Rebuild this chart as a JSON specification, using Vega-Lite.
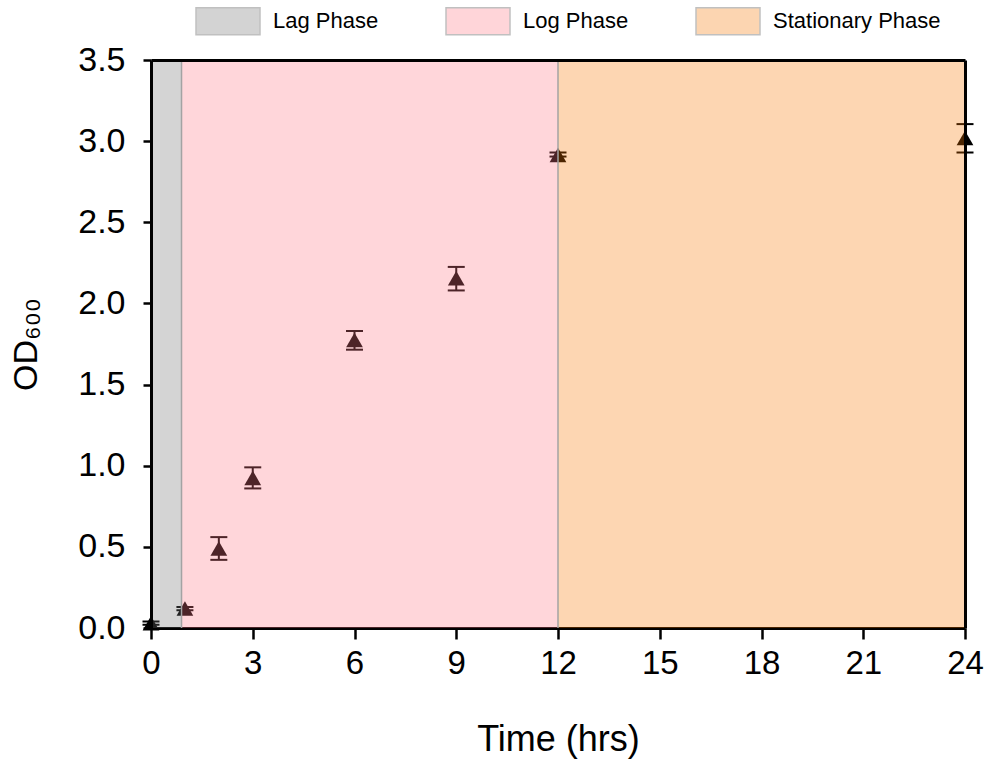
{
  "$schema": "https://vega.github.io/schema/vega-lite/v6.json",
  "width": 814,
  "height": 568,
  "autosize": {"type": "none"},
  "padding": {"left": 151, "top": 60, "right": 25, "bottom": 131},
  "background": "white",
  "config": {
    "view": {"stroke": null},
    "font": "Liberation Sans",
    "axis": {"domainColor": "black", "domainWidth": 3, "tickColor": "black", "tickWidth": 2.5, "labelColor": "black", "titleColor": "black", "grid": false, "titleFontWeight": "normal", "labelFont": "Liberation Sans", "titleFont": "Liberation Sans", "labelFlush": false, "labelOverlap": false}
  },
  "datasets": {
    "growth": [
      {"time": 0, "od": 0.03, "lo": 0.02, "hi": 0.04},
      {"time": 1, "od": 0.12, "lo": 0.11, "hi": 0.13},
      {"time": 2, "od": 0.49, "lo": 0.42, "hi": 0.56},
      {"time": 3, "od": 0.925, "lo": 0.86, "hi": 0.99},
      {"time": 6, "od": 1.775, "lo": 1.715, "hi": 1.83},
      {"time": 9, "od": 2.155, "lo": 2.08, "hi": 2.225},
      {"time": 12, "od": 2.915, "lo": 2.905, "hi": 2.93},
      {"time": 24, "od": 3.02, "lo": 2.93, "hi": 3.105}
    ],
    "phases": [
      {"phase": "Lag Phase", "start": 0, "end": 0.9, "bottom": 0, "top": 3.5},
      {"phase": "Log Phase", "start": 0.9, "end": 12, "bottom": 0, "top": 3.5},
      {"phase": "Stationary Phase", "start": 12, "end": 24, "bottom": 0, "top": 3.5}
    ]
  },
  "layer": [
    {
      "data": {"name": "growth"},
      "mark": {"type": "rule", "color": "black", "strokeWidth": 2},
      "encoding": {
        "x": {"field": "time", "type": "quantitative", "scale": {"domain": [0, 24], "nice": false, "zero": false},
          "axis": {"orient": "bottom", "values": [0, 3, 6, 9, 12, 15, 18, 21, 24], "labelFontSize": 33, "labelPadding": 8, "tickSize": 11, "title": "Time (hrs)", "titleFontSize": 36, "titlePadding": 42, "zindex": 0}},
        "y": {"field": "lo", "type": "quantitative", "scale": {"domain": [0, 3.5], "nice": false, "zero": false},
          "axis": {"orient": "left", "values": [0, 0.5, 1, 1.5, 2, 2.5, 3, 3.5], "format": ".1f", "labelFontSize": 34, "labelPadding": 18, "tickSize": 8, "title": "OD₆₀₀", "titleFontSize": 34, "titlePadding": 34, "zindex": 1}},
        "y2": {"field": "hi"}
      }
    },
    {
      "data": {"name": "growth"},
      "mark": {"type": "tick", "orient": "horizontal", "size": 17, "thickness": 2, "color": "black", "opacity": 1},
      "encoding": {
        "x": {"field": "time", "type": "quantitative", "axis": null},
        "y": {"field": "lo", "type": "quantitative", "axis": null}
      }
    },
    {
      "data": {"name": "growth"},
      "mark": {"type": "tick", "orient": "horizontal", "size": 17, "thickness": 2, "color": "black", "opacity": 1},
      "encoding": {
        "x": {"field": "time", "type": "quantitative", "axis": null},
        "y": {"field": "hi", "type": "quantitative", "axis": null}
      }
    },
    {
      "data": {"name": "growth"},
      "mark": {"type": "point", "shape": "triangle-up", "filled": true, "color": "black", "size": 280, "opacity": 1},
      "encoding": {
        "x": {"field": "time", "type": "quantitative", "axis": null},
        "y": {"field": "od", "type": "quantitative", "axis": null}
      }
    },
    {
      "data": {"name": "phases"},
      "mark": {"type": "rect", "opacity": 0.3},
      "encoding": {
        "x": {"field": "start", "type": "quantitative",
          "axis": {"orient": "top", "labels": false, "ticks": false, "title": null, "domainWidth": 3, "zindex": 1}},
        "x2": {"field": "end"},
        "y": {"field": "bottom", "type": "quantitative",
          "axis": {"orient": "right", "labels": false, "ticks": false, "title": null, "domainWidth": 3, "zindex": 1}},
        "y2": {"field": "top"},
        "fill": {"field": "phase", "type": "nominal",
          "scale": {"domain": ["Lag Phase", "Log Phase", "Stationary Phase"], "range": ["#707070", "#ff7684", "#f87800"]},
          "legend": {"orient": "none", "legendX": 44, "legendY": -72, "direction": "horizontal", "title": null,
            "symbolType": "M-1,-0.42H1V0.42H-1Z", "symbolSize": 4096, "symbolOpacity": 0.3,
            "symbolStrokeColor": "#333", "symbolStrokeWidth": 1.5, "labelLimit": 0,
            "labelFontSize": 22, "labelFont": "Liberation Sans", "labelColor": "black", "labelOffset": 12, "columnPadding": 64}}
      }
    },
    {
      "data": {"name": "phases"},
      "transform": [{"filter": "datum.start > 0"}],
      "mark": {"type": "rule", "color": "#a3a3a3", "strokeWidth": 1.5},
      "encoding": {
        "x": {"field": "start", "type": "quantitative", "axis": null}
      }
    }
  ],
  "resolve": {"axis": {"x": "independent", "y": "independent"}}
}
